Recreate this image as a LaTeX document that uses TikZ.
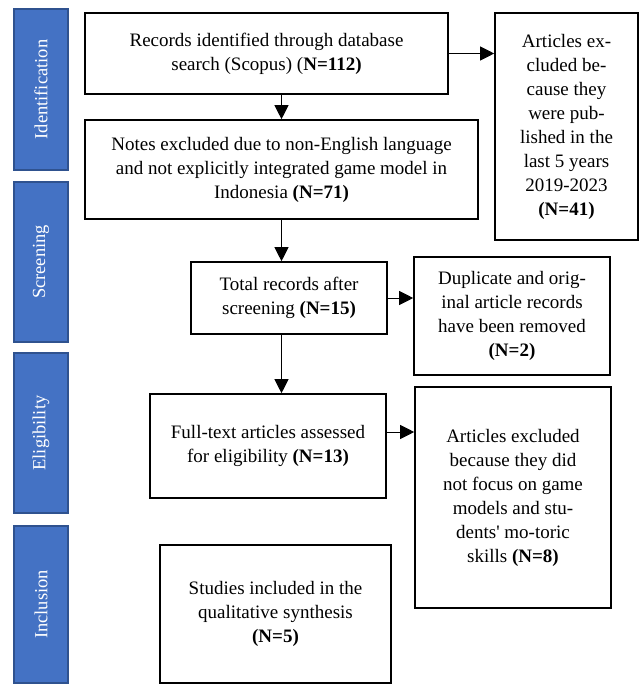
\documentclass[tikz,border=0pt]{standalone}
\usepackage{fontspec}
\setmainfont{Liberation Serif}
\usetikzlibrary{arrows.meta}
\definecolor{phaseblue}{HTML}{4472C4}
\definecolor{phaseedge}{HTML}{2F528F}
\begin{document}
\begin{tikzpicture}[x=1pt,y=-1pt,font=\fontsize{19}{24}\selectfont,
	box/.style={draw,line width=1.6pt,fill=white,align=center,inner sep=0pt},
	phase/.style={draw=phaseedge,fill=phaseblue,line width=1.2pt,text=white,rotate=90,minimum height=54pt,inner sep=0pt,font=\fontsize{18.5}{22}\selectfont},
	arr/.style={line width=1pt,-{Triangle[length=14pt,width=14pt]}}]
		\useasboundingbox (0,0) rectangle (640,684);
		% phases
		\node[phase,minimum width=161pt] (ident) at (41,89.5) {Identification};
		\node[phase,minimum width=160pt] (screen) at (41,262) {Screening};
		\node[phase,minimum width=160pt] (elig) at (41,433) {Eligibility};
		\node[phase,minimum width=157pt] (incl) at (41,604.5) {Inclusion};
		% boxes
		\node[box,minimum width=363pt,minimum height=81pt] (rec) at (266.5,53.5) {Records identified through database\\search (Scopus) (\textbf{N=112)}};
		\node[box,minimum width=393pt,minimum height=99pt] (notes) at (281.5,169.5) {Notes excluded due to non-English language\\and not explicitly integrated game model in\\Indonesia \textbf{(N=71)}};
		\node[box,minimum width=143pt,minimum height=227pt] (excl) at (566.5,126.5) {Articles ex-\\cluded be-\\cause they\\were pub-\\lished in the\\last 5 years\\2019-2023\\\textbf{(N=41)}};
		\node[box,minimum width=196pt,minimum height=72pt] (total) at (289,298) {Total records after\\screening \textbf{(N=15)}};
		\node[box,minimum width=196pt,minimum height=118pt] (dup) at (512,316) {Duplicate and orig-\\inal article records\\have been removed\\\textbf{(N=2)}};
		\node[box,minimum width=236pt,minimum height=104pt] (full) at (268,446) {Full-text articles assessed\\for eligibility \textbf{(N=13)}};
		\node[box,minimum width=196pt,minimum height=221pt] (focus) at (513,497.5) {Articles excluded\\because they did\\not focus on game\\models and stu-\\dents\textquotesingle{} mo-toric\\skills \textbf{(N=8)}};
		\node[box,minimum width=231pt,minimum height=138pt] (incbox) at (275.5,614) {Studies included in the\\qualitative synthesis\\\textbf{(N=5)}};
		% arrows
		\draw[arr] (rec.east) -- (rec.east -| excl.west);
		\draw[arr] (rec.south -| notes) -- (notes.north);
		\draw[arr] (notes.south) -- (notes.south |- total.north);
		\draw[arr] (total.east) -- (total.east -| dup.west);
		\draw[arr] (total.south -| notes) -- (full.north -| notes);
		\draw[arr] ([yshift=14pt]full.east) -- ([yshift=14pt]full.east -| focus.west);
	\end{tikzpicture}
\end{document}
